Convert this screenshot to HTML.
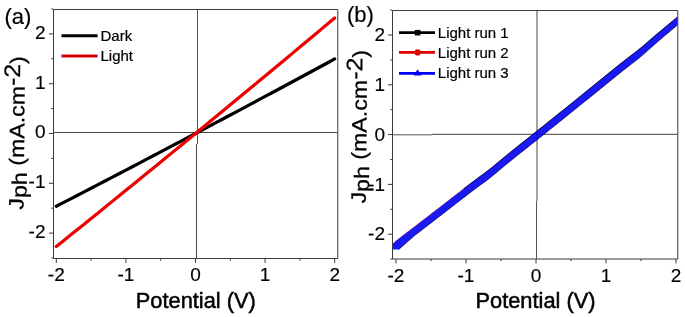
<!DOCTYPE html>
<html><head><meta charset="utf-8"><style>
html,body{margin:0;padding:0;background:#fff;width:685px;height:317px;overflow:hidden}
svg{display:block}
.lg{stroke-width:0.2px}
.tk{stroke-width:0.15px}
.pl{stroke-width:0.2px}
.yl{stroke-width:0.25px}
text{font-family:'Liberation Sans', Arial, sans-serif;fill:#000;stroke:#000;stroke-width:0.5px}
</style></head><body>
<svg width="685" height="317" viewBox="0 0 685 317">
<rect width="685" height="317" fill="#fff"/>
<line x1="53.5" y1="132.5" x2="337.8" y2="132.5" stroke="#484848" stroke-width="1"/>
<line x1="197.5" y1="9.5" x2="197.5" y2="144" stroke="#555" stroke-width="1"/>
<line x1="196.5" y1="144" x2="196.5" y2="258.5" stroke="#484848" stroke-width="1"/>
<polyline points="56.3,206.26 63.26,202.66 70.22,199.06 77.18,195.46 84.14,191.85 91.1,188.24 98.06,184.62 105.02,181 111.98,177.37 118.94,173.74 125.9,170.1 132.86,166.46 139.82,162.82 146.78,159.17 153.74,155.52 160.7,151.86 167.66,148.19 174.62,144.53 181.58,140.86 188.54,137.18 195.5,133.5 202.46,129.82 209.42,126.13 216.38,122.43 223.34,118.73 230.3,115.03 237.26,111.32 244.22,107.61 251.18,103.89 258.14,100.17 265.1,96.45 272.06,92.72 279.02,88.98 285.98,85.25 292.94,81.5 299.9,77.76 306.86,74 313.82,70.25 320.78,66.49 327.74,62.72 334.7,58.95" fill="none" stroke="#000" stroke-width="3.2" stroke-linecap="round" stroke-linejoin="round"/>
<polyline points="56.3,246.55 63.26,240.95 70.22,235.35 77.18,229.75 84.14,224.14 91.1,218.52 98.06,212.89 105.02,207.26 111.98,201.63 118.94,195.98 125.9,190.33 132.86,184.68 139.82,179.02 146.78,173.35 153.74,167.68 160.7,161.99 167.66,156.31 174.62,150.62 181.58,144.92 188.54,139.21 195.5,133.5 202.46,127.78 209.42,122.06 216.38,116.33 223.34,110.59 230.3,104.85 237.26,99.1 244.22,93.35 251.18,87.58 258.14,81.82 265.1,76.04 272.06,70.26 279.02,64.48 285.98,58.68 292.94,52.89 299.9,47.08 306.86,41.27 313.82,35.45 320.78,29.63 327.74,23.8 334.7,17.96" fill="none" stroke="#ec0000" stroke-width="3.2" stroke-linecap="round" stroke-linejoin="round"/>
<path d="M53.5 9.5H337.8V258.5H53.5Z" fill="none" stroke="#3a3a3a" stroke-width="1"/>
<path d="M56.3 258.5v4.5M91.1 258.5v2.2M125.9 258.5v4.5M160.7 258.5v2.2M195.5 258.5v4.5M230.3 258.5v2.2M265.1 258.5v4.5M299.9 258.5v2.2M334.7 258.5v4.5M53.5 258h-2.2M53.5 233.1h-4.5M53.5 208.2h-2.2M53.5 183.3h-4.5M53.5 158.4h-2.2M53.5 133.5h-4.5M53.5 108.6h-2.2M53.5 83.7h-4.5M53.5 58.8h-2.2M53.5 33.9h-4.5M53.5 9h-2.2" stroke="#3a3a3a" stroke-width="1" fill="none"/>
<text x="56.3" y="281" text-anchor="middle" font-size="19" class="tk">-2</text>
<text x="125.9" y="281" text-anchor="middle" font-size="19" class="tk">-1</text>
<text x="195.5" y="281" text-anchor="middle" font-size="19" class="tk">0</text>
<text x="265.1" y="281" text-anchor="middle" font-size="19" class="tk">1</text>
<text x="334.7" y="281" text-anchor="middle" font-size="19" class="tk">2</text>
<text x="45.5" y="238" text-anchor="end" font-size="19" class="tk">-2</text>
<text x="45.5" y="188.2" text-anchor="end" font-size="19" class="tk">-1</text>
<text x="45.5" y="138.4" text-anchor="end" font-size="19" class="tk">0</text>
<text x="45.5" y="88.6" text-anchor="end" font-size="19" class="tk">1</text>
<text x="45.5" y="38.8" text-anchor="end" font-size="19" class="tk">2</text>
<text x="195.8" y="307.5" text-anchor="middle" font-size="21.8">Potential (V)</text>
<text transform="translate(24.2 132.9) rotate(-89.45) scale(1.105 1)" text-anchor="middle" font-size="21" class="yl">J<tspan dy="3">ph</tspan><tspan dy="-3"> (mA.cm</tspan><tspan dy="-4.8" font-size="22.5">-2</tspan><tspan dy="4.8">)</tspan></text>
<text x="4.5" y="24.3" font-size="22" class="pl">(a)</text>
<line x1="61.5" y1="35.8" x2="97.6" y2="35.8" stroke="#000" stroke-width="3"/>
<line x1="61.5" y1="55.9" x2="97.6" y2="55.9" stroke="#d40000" stroke-width="3"/>
<text x="100.5" y="40.8" font-size="15" class="lg">Dark</text>
<text x="100.5" y="60.9" font-size="15" class="lg">Light</text>
<line x1="392.5" y1="134.8" x2="432" y2="134.8" stroke="#555" stroke-width="1"/>
<line x1="432" y1="134.3" x2="677.8" y2="134.3" stroke="#444" stroke-width="1"/>
<line x1="537" y1="10.5" x2="537" y2="201" stroke="#444" stroke-width="1"/>
<line x1="536.5" y1="201" x2="536.5" y2="259" stroke="#555" stroke-width="1"/>
<polygon points="392.6,244.3 395.3,241.3 404,234.56 408,231.51 412,228.44 416,225.38 420,222.31 424,219.23 428,216.16 432,213.07 436,209.99 440,206.9 444,203.8 448,200.71 452,197.61 456,194.5 460,191.39 464,188.29 468,185.2 472,182.15 476,179.16 480,176.22 484,173.3 488,170.29 492,167.15 496,163.87 500,160.52 504,157.17 508,153.88 512,150.65 516,147.45 520,144.27 524,141.1 528,137.92 532,134.74 536,131.55 540,128.36 544,125.17 548,121.97 552,118.77 556,115.57 560,112.36 564,109.15 568,105.93 572,102.71 576,99.48 580,96.26 584,93.02 588,89.79 592,86.55 596,83.3 600,80.05 604,76.8 608,73.55 612,70.29 616,67.05 620,63.83 624,60.68 628,57.58 632,54.56 636,51.51 640,48.34 644,45.01 648,41.55 652,38.05 656,34.6 660,31.22 664,27.89 668,24.59 672,21.3 676,18.01 677.6,16.69 677.6,24.89 676,26.24 672,29.6 668,32.97 664,36.34 660,39.75 656,43.21 652,46.74 648,50.31 644,53.84 640,57.25 636,60.5 632,63.62 628,66.68 624,69.78 620,72.93 616,76.15 612,79.39 608,82.65 604,85.9 600,89.15 596,92.4 592,95.65 588,98.89 584,102.12 580,105.36 576,108.58 572,111.81 568,115.03 564,118.25 560,121.46 556,124.67 552,127.87 548,131.07 544,134.27 540,137.46 536,140.65 532,143.84 528,147.02 524,150.2 520,153.37 516,156.55 512,159.75 508,162.98 504,166.27 500,169.62 496,172.97 492,176.25 488,179.39 484,182.4 480,185.32 476,188.26 472,191.25 468,194.3 464,197.39 460,200.49 456,203.6 452,206.71 448,209.81 444,212.9 440,216 436,219.09 432,222.17 428,225.26 424,228.33 420,231.41 416,234.48 414,236.01 398.8,249.4 392.6,249.4" fill="#0000f2" fill-opacity="0.9"/>
<polyline points="392.6,244.6 395.3,241.6 404,234.86 408,231.81 412,228.74 416,225.68 420,222.61 424,219.53 428,216.46 432,213.37 436,210.29 440,207.2 444,204.1 448,201.01 452,197.91 456,194.8 460,191.69 464,188.59 468,185.5" fill="none" stroke="#e00000" stroke-opacity="0.35" stroke-width="1"/>
<polyline points="464,188.59 468,185.5 472,182.45 476,179.46 480,176.52 484,173.6 488,170.59 492,167.45 496,164.17 500,160.82 504,157.47 508,154.18 512,150.95 516,147.75 520,144.57 524,141.4 528,138.22 532,135.04 536,131.85 540,128.66 544,125.47 548,122.27 552,119.07 556,115.87 560,112.66 564,109.45 568,106.23 572,103.01 576,99.78 580,96.56 584,93.32 588,90.09 592,86.85 596,83.6 600,80.35 604,77.1 608,73.85 612,70.59 616,67.35 620,64.13 624,60.98 628,57.88 632,54.86 636,51.81 640,48.64 644,45.31 648,41.85 652,38.35 656,34.9 660,31.52 664,28.19 668,24.89 672,21.6 676,18.31 677.6,16.99" fill="none" stroke="#000018" stroke-opacity="0.75" stroke-width="1"/>
<polyline points="677.6,24.89 676,26.24 672,29.6 668,32.97 664,36.34 660,39.75 656,43.21 652,46.74 648,50.31 644,53.84 640,57.25 636,60.5 632,63.62 628,66.68 624,69.78 620,72.93 616,76.15 612,79.39 608,82.65 604,85.9 600,89.15 596,92.4 592,95.65 588,98.89 584,102.12 580,105.36 576,108.58 572,111.81 568,115.03 564,118.25 560,121.46 556,124.67 552,127.87 548,131.07 544,134.27 540,137.46 536,140.65 532,143.84 528,147.02 524,150.2 520,153.37 516,156.55 512,159.75 508,162.98 504,166.27 500,169.62 496,172.97 492,176.25 488,179.39 484,182.4 480,185.32 476,188.26 472,191.25 468,194.3 464,197.39 460,200.49 456,203.6 452,206.71 448,209.81 444,212.9 440,216 436,219.09 432,222.17 428,225.26 424,228.33 420,231.41 416,234.48 414,236.01 398.8,249.4" fill="none" stroke="#000030" stroke-opacity="0.65" stroke-width="1"/>
<path d="M392.5 10.5H677.8V259H392.5Z" fill="none" stroke="#3a3a3a" stroke-width="1"/>
<path d="M396 259v4.5M431 259v2.2M466 259v4.5M501 259v2.2M536 259v4.5M571 259v2.2M606 259v4.5M641 259v2.2M676 259v4.5M392.5 259.1h-2.2M392.5 234.2h-4.5M392.5 209.3h-2.2M392.5 184.4h-4.5M392.5 159.5h-2.2M392.5 134.6h-4.5M392.5 109.7h-2.2M392.5 84.8h-4.5M392.5 59.9h-2.2M392.5 35h-4.5M392.5 10.1h-2.2" stroke="#3a3a3a" stroke-width="1" fill="none"/>
<text x="396" y="281.8" text-anchor="middle" font-size="19" class="tk">-2</text>
<text x="466" y="281.8" text-anchor="middle" font-size="19" class="tk">-1</text>
<text x="536" y="281.8" text-anchor="middle" font-size="19" class="tk">0</text>
<text x="606" y="281.8" text-anchor="middle" font-size="19" class="tk">1</text>
<text x="676" y="281.8" text-anchor="middle" font-size="19" class="tk">2</text>
<text x="385" y="240.4" text-anchor="end" font-size="19" class="tk">-2</text>
<text x="385" y="190.6" text-anchor="end" font-size="19" class="tk">-1</text>
<text x="385" y="140.8" text-anchor="end" font-size="19" class="tk">0</text>
<text x="385" y="91" text-anchor="end" font-size="19" class="tk">1</text>
<text x="385" y="41.2" text-anchor="end" font-size="19" class="tk">2</text>
<text x="535.5" y="308" text-anchor="middle" font-size="21.8">Potential (V)</text>
<text transform="translate(366.5 126.8) rotate(-89.45) scale(1.105 1)" text-anchor="middle" font-size="21" class="yl">J<tspan dy="3">ph</tspan><tspan dy="-3"> (mA.cm</tspan><tspan dy="-4.8" font-size="22.5">-2</tspan><tspan dy="4.8">)</tspan></text>
<text x="347" y="21.6" font-size="22" class="pl">(b)</text>
<line x1="399" y1="32.7" x2="435" y2="32.7" stroke="#000" stroke-width="2.8"/>
<rect x="414.8" y="29.9" width="5.6" height="5.6" fill="#000"/>
<line x1="399" y1="52.4" x2="435" y2="52.4" stroke="#e00000" stroke-width="2.8"/>
<circle cx="417.6" cy="52.4" r="3.1" fill="#e00000"/>
<line x1="399" y1="73.3" x2="435" y2="73.3" stroke="#0000f0" stroke-width="2.8"/>
<path d="M417.6 69.3L421.6 75.6H413.6Z" fill="#0000f0"/>
<text x="437.8" y="38" font-size="15" class="lg">Light run 1</text>
<text x="437.8" y="58" font-size="15" class="lg">Light run 2</text>
<text x="437.8" y="78.1" font-size="15" class="lg">Light run 3</text>
</svg>
</body></html>
